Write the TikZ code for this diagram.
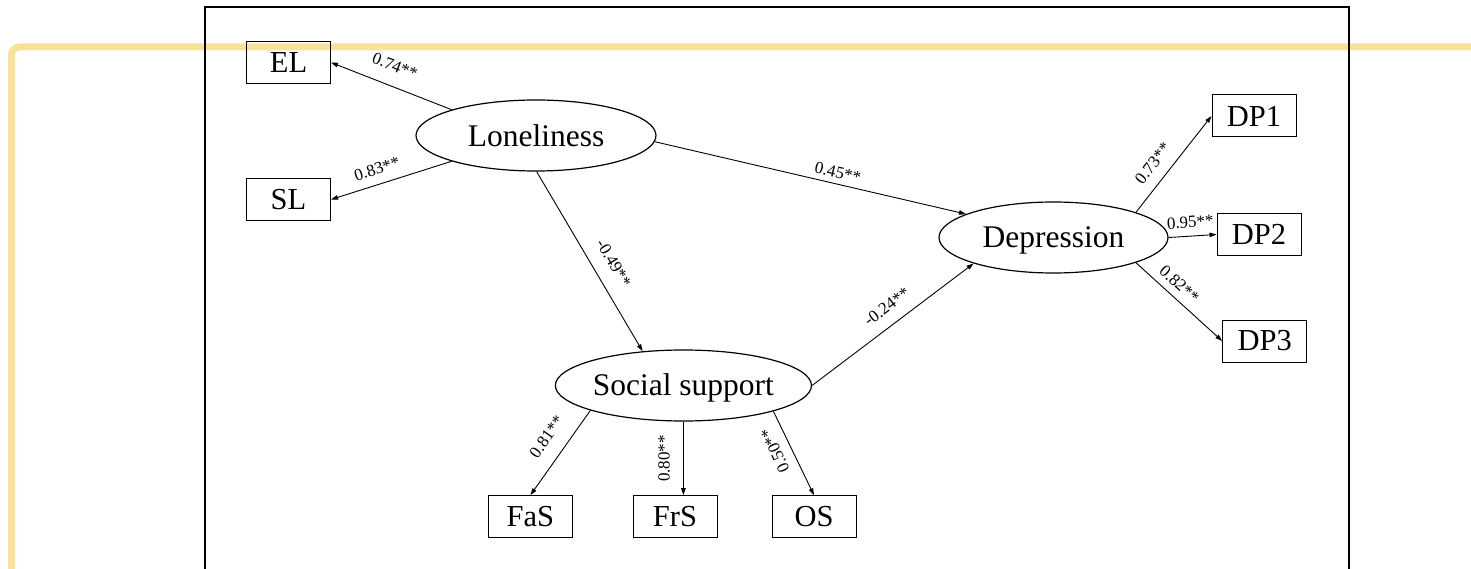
\documentclass[tikz,border=0pt]{standalone}
\usepackage{fontspec}
\setmainfont{Liberation Serif}
\usetikzlibrary{shapes.geometric,arrows.meta}
\definecolor{hl}{RGB}{249,225,155}
\begin{document}
\begin{tikzpicture}[x=1pt,y=-1pt,
  lat/.style={draw, ellipse, line width=1.2pt, inner sep=0pt, minimum height=71pt, text height=20.5pt, text depth=0pt, font=\fontsize{31.5}{36}\selectfont},
  obs/.style={draw, rectangle, line width=1pt, minimum width=84pt, minimum height=42pt, inner sep=0pt, font=\fontsize{30.5}{36}\selectfont},
  arr/.style={line width=0.9pt, -{Triangle[length=7pt,width=4.5pt]}},
  lab/.style={font=\fontsize{17}{20}\selectfont, inner sep=0pt}
]
\useasboundingbox (0,0) rectangle (1471,569);
\clip (0,0) rectangle (1471,569);
\draw[hl, line width=7pt, rounded corners=8pt] (1500,47) -- (11.5,47) -- (11.5,600);
\draw[line width=2pt] (205,600) -- (205,7) -- (1349,7) -- (1349,600);

\node[obs] (EL) at (288.5,62.5) {EL};
\node[obs] (SL) at (288.5,199.5) {SL};
\node[lat, minimum width=240pt, text height=23pt] (lon) at (536,135.5) {Loneliness};
\node[lat, minimum width=229pt] (dep) at (1053.5,237.5) {Depression};
\node[lat, minimum width=256pt] (ss) at (683.4,385.5) {Social support};
\node[obs] (DP1) at (1254,116) {DP1};
\node[obs] (DP2) at (1259,234.5) {DP2};
\node[obs] (DP3) at (1264.7,341) {DP3};
\node[obs] (FaS) at (530.4,516.7) {FaS};
\node[obs] (FrS) at (675,516.7) {FrS};
\node[obs] (OS) at (814,516.7) {OS};

\draw[arr] (lon.163.5) -- node[lab, pos=.53, sloped, yshift=19.9pt] {0.74**} (EL.east);
\draw[arr] (lon.197.5) -- node[lab, pos=.58, sloped, yshift=15.5pt] {0.83**} (SL.east);
\draw[arr] (lon.-3.2) -- node[lab, pos=.58, sloped, yshift=11.2pt] {0.45**} (dep.165.3);
\draw[arr] (lon.-89) -- node[lab, pos=.565, sloped, yshift=20pt] {-0.49**} (ss.140.5);
\draw[arr] (ss.east) -- node[lab, pos=.53, sloped, yshift=18pt] {-0.24**} (dep.198);
\draw[arr] (dep.17.7) -- node[lab, pos=.4, sloped, yshift=17pt] {0.73**} (DP1.west);
\draw[arr] (dep.east) -- node[lab, pos=.47, sloped, yshift=14pt] {0.95**} (DP2.west);
\draw[arr] (dep.-17.4) -- node[lab, pos=.4, sloped, yshift=13.4pt] {0.82**} (DP3.west);
\draw[arr] (ss.195.7) -- node[lab, pos=.45, sloped, yshift=20.5pt] {0.81**} (FaS.north);
\draw[arr] (ss.south) -- node[lab, pos=.5, xshift=-19.3pt, rotate=90] {0.80**} (ss.south |- FrS.north);
\draw[arr] (ss.-16) -- node[lab, pos=.387, rotate=114.7, yshift=15.5pt] {0.50**} (OS.north);
\end{tikzpicture}
\end{document}
